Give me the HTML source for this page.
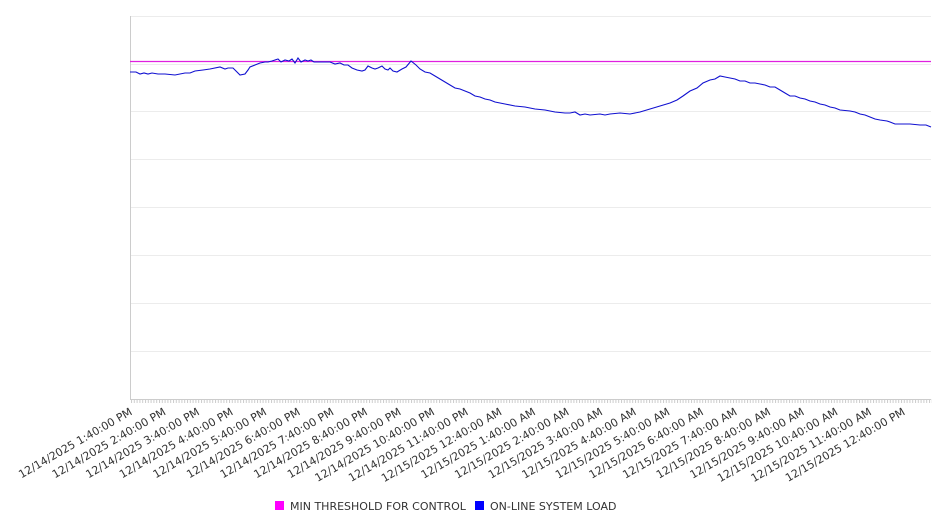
<!DOCTYPE html>
<html><head><style>body{margin:0;background:#fff}svg{display:block;font-family:"DejaVu Sans","Liberation Sans",sans-serif}</style></head>
<body>
<svg width="946" height="526" xmlns="http://www.w3.org/2000/svg">
<defs><pattern id="tk" x="131" y="0" width="2.8" height="10" patternUnits="userSpaceOnUse"><rect x="0" y="0" width="1" height="10" fill="#ccc"/></pattern></defs>
<g stroke="#ececec" stroke-width="1">
<line x1="130" y1="16.5" x2="931" y2="16.5"/><line x1="130" y1="64.5" x2="931" y2="64.5"/><line x1="130" y1="111.5" x2="931" y2="111.5"/><line x1="130" y1="159.5" x2="931" y2="159.5"/><line x1="130" y1="207.5" x2="931" y2="207.5"/><line x1="130" y1="255.5" x2="931" y2="255.5"/><line x1="130" y1="303.5" x2="931" y2="303.5"/><line x1="130" y1="351.5" x2="931" y2="351.5"/>
</g>
<line x1="130.5" y1="16" x2="130.5" y2="400" stroke="#ccc"/>
<line x1="130" y1="399.5" x2="931" y2="399.5" stroke="#ccc"/>
<rect x="130" y="399" width="802" height="4" fill="url(#tk)"/>
<line x1="130" y1="61.5" x2="931" y2="61.5" stroke="#e020e0" stroke-width="1.2"/>
<polyline fill="none" stroke="#1010d0" stroke-width="1.1" points="130,72 136,72 140,74 144,73 148,74 152,73 158,74 165,74 175,75 185,73 190,73 195,71 203,70 210,69 220,67 225,69 228,68 233,68 236,71 240,75 245,74 248,70 250,67 255,65 260,63 265,62 268,62 272,61 278,59 281,62 285,60 289,61 292,59 295,63 298,58 301,62 305,60 308,61 311,60 314,62 320,62 330,62 335,64 340,63 344,65 348,65 352,68 357,70 362,71 365,70 368,66 372,68 375,69 378,68 382,66 385,69 388,70 390,68 393,71 397,72 402,69 406,67 411,61 416,65 420,69 425,72 430,73 435,76 440,79 445,82 450,85 455,88 460,89 465,91 470,93 475,96 480,97 485,99 490,100 495,102 505,104 515,106 525,107 535,109 545,110 555,112 565,113 570,113 575,112 580,115 585,114 590,115 600,114 605,115 610,114 620,113 630,114 640,112 650,109 660,106 670,103 677,100 683,96 690,91 697,88 703,83 710,80 715,79 720,76 725,77 730,78 735,79 740,81 745,81 750,83 755,83 760,84 765,85 770,87 775,87 780,90 785,93 790,96 795,96 800,98 805,99 810,101 815,102 820,104 825,105 830,107 835,108 840,110 850,111 855,112 860,114 865,115 870,117 875,119 880,120 887,121 890,122 895,124 900,124 910,124 920,125 926,125 931,127"/>
<g font-size="11" fill="#333" text-anchor="end">
<text x="133" y="414" transform="rotate(-30 133 414)">12/14/2025 1:40:00 PM</text>
<text x="166.6" y="414" transform="rotate(-30 166.6 414)">12/14/2025 2:40:00 PM</text>
<text x="200.2" y="414" transform="rotate(-30 200.2 414)">12/14/2025 3:40:00 PM</text>
<text x="233.8" y="414" transform="rotate(-30 233.8 414)">12/14/2025 4:40:00 PM</text>
<text x="267.4" y="414" transform="rotate(-30 267.4 414)">12/14/2025 5:40:00 PM</text>
<text x="301" y="414" transform="rotate(-30 301 414)">12/14/2025 6:40:00 PM</text>
<text x="334.6" y="414" transform="rotate(-30 334.6 414)">12/14/2025 7:40:00 PM</text>
<text x="368.2" y="414" transform="rotate(-30 368.2 414)">12/14/2025 8:40:00 PM</text>
<text x="401.8" y="414" transform="rotate(-30 401.8 414)">12/14/2025 9:40:00 PM</text>
<text x="435.4" y="414" transform="rotate(-30 435.4 414)">12/14/2025 10:40:00 PM</text>
<text x="469" y="414" transform="rotate(-30 469 414)">12/14/2025 11:40:00 PM</text>
<text x="502.6" y="414" transform="rotate(-30 502.6 414)">12/15/2025 12:40:00 AM</text>
<text x="536.2" y="414" transform="rotate(-30 536.2 414)">12/15/2025 1:40:00 AM</text>
<text x="569.8" y="414" transform="rotate(-30 569.8 414)">12/15/2025 2:40:00 AM</text>
<text x="603.4" y="414" transform="rotate(-30 603.4 414)">12/15/2025 3:40:00 AM</text>
<text x="637" y="414" transform="rotate(-30 637 414)">12/15/2025 4:40:00 AM</text>
<text x="670.6" y="414" transform="rotate(-30 670.6 414)">12/15/2025 5:40:00 AM</text>
<text x="704.2" y="414" transform="rotate(-30 704.2 414)">12/15/2025 6:40:00 AM</text>
<text x="737.8" y="414" transform="rotate(-30 737.8 414)">12/15/2025 7:40:00 AM</text>
<text x="771.4" y="414" transform="rotate(-30 771.4 414)">12/15/2025 8:40:00 AM</text>
<text x="805" y="414" transform="rotate(-30 805 414)">12/15/2025 9:40:00 AM</text>
<text x="838.6" y="414" transform="rotate(-30 838.6 414)">12/15/2025 10:40:00 AM</text>
<text x="872.2" y="414" transform="rotate(-30 872.2 414)">12/15/2025 11:40:00 AM</text>
<text x="905.8" y="414" transform="rotate(-30 905.8 414)">12/15/2025 12:40:00 PM</text>
</g>
<rect x="275" y="501" width="9" height="9" fill="#ff00ff"/>
<text x="290" y="510" font-size="11" fill="#333">MIN THRESHOLD FOR CONTROL</text>
<rect x="475" y="501" width="9" height="9" fill="#0000ff"/>
<text x="490" y="510" font-size="11" fill="#333">ON-LINE SYSTEM LOAD</text>
</svg>
</body></html>
